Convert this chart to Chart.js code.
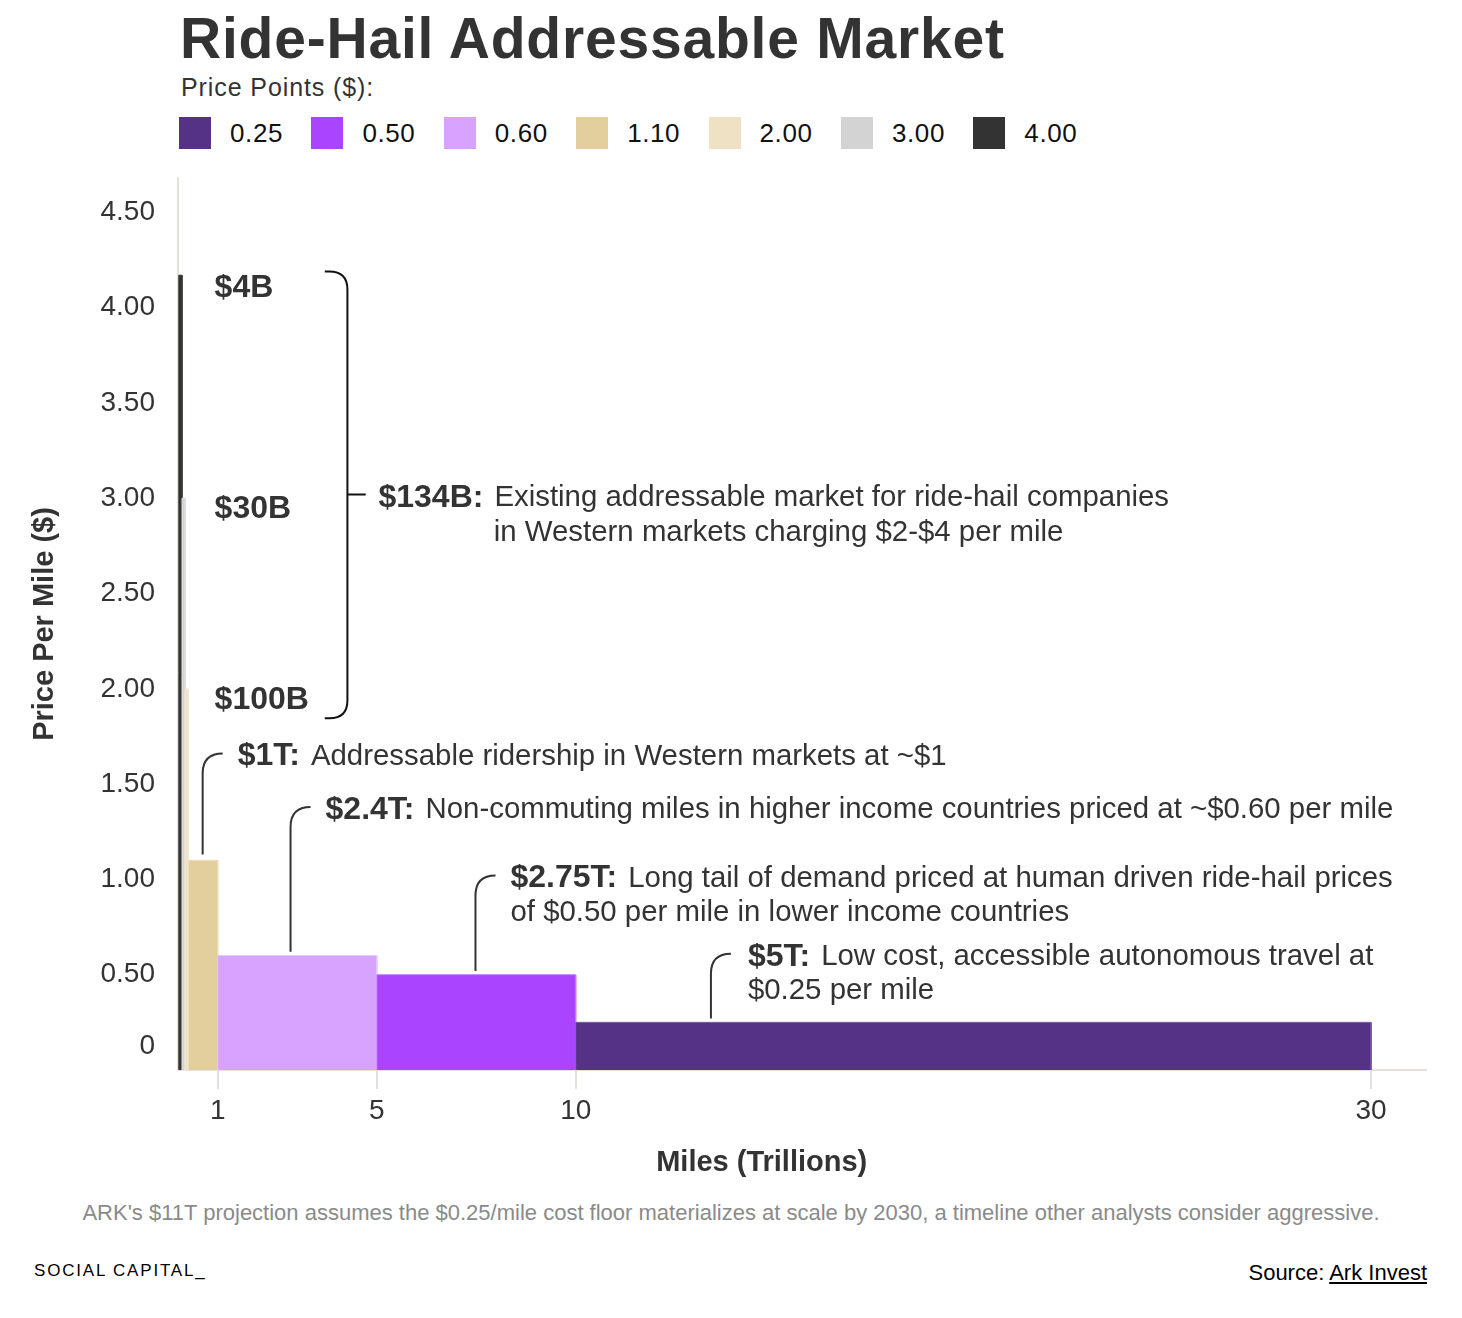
<!DOCTYPE html>
<html>
<head>
<meta charset="utf-8">
<script src="https://cdn.jsdelivr.net/npm/chart.js@4.4.1/dist/chart.umd.min.js"></script>
<style>
  body { margin: 0; background: #fff; font-family: "Liberation Sans", Arial, sans-serif; color: #333; }
  #page { position: relative; width: 1462px; height: 1318px; overflow: hidden; }
  h1 { position: absolute; left: 180px; top: 6px; margin: 0; font-size: 57px; font-weight: bold; color: #333; letter-spacing: 0.8px; line-height: 1.15; }
  #sub { position: absolute; left: 181px; top: 73px; font-size: 25px; letter-spacing: 0.9px; color: #333; }
  #legend { position: absolute; left: 179px; top: 117px; display: flex; }
  .item { width: 132.4px; height: 32px; display: flex; align-items: center; font-size: 26px; letter-spacing: 0.6px; color: #111; }
  .sw { width: 32px; height: 32px; margin-right: 19px; flex: none; }
  #chart { position: absolute; left: 0; top: 130px; }
  #note { position: absolute; left: 0; width: 1462px; top: 1200px; text-align: center; font-size: 22px; color: #8a8a8a; }
  #brand { position: absolute; left: 34px; top: 1261px; font-size: 17px; color: #000; letter-spacing: 1.8px; }
  #source { position: absolute; right: 35px; top: 1260px; font-size: 22px; color: #000; }
  #source span { text-decoration: underline; }
</style>
</head>
<body>
<div id="page">
  <h1>Ride-Hail Addressable Market</h1>
  <div id="sub">Price Points ($):</div>
  <div id="legend"></div>
  <canvas id="chart" width="1462" height="1070"></canvas>
  <div id="note">ARK's $11T projection assumes the $0.25/mile cost floor materializes at scale by 2030, a timeline other analysts consider aggressive.</div>
  <div id="brand">SOCIAL CAPITAL_</div>
  <div id="source">Source: <span>Ark Invest</span></div>
</div>
<script>
// price points (legend order) and the bars as they are drawn
const priceLabels = ['0.25', '0.50', '0.60', '1.10', '2.00', '3.00', '4.00'];
const barHeights = [0.25, 0.50, 0.60, 1.10, 2.00, 3.00, 4.17];
const milesStart = [10, 5, 1, 0.26, 0.18, 0.10, 0.02];
const milesEnd = [30, 10, 5, 1, 0.26, 0.18, 0.10];
const colors = ['#553285', '#aa44fe', '#d7a3fe', '#e3cf9d', '#efe2c4', '#d3d3d3', '#333333'];
const edges = ['#7a5aa3', '#c27dff', '#e5c4ff', '#ebdcb8', '#f4ead4', '#dedede', '#333333'];

const xTicks = [1, 5, 10, 30];
const yTicks = [0, 0.5, 1, 1.5, 2, 2.5, 3, 3.5, 4, 4.5];

// annotation anchors in data units (trillion miles, $ per mile)
const valueTags = [
  { text: '$4B', x: 0.92, y: 4.10 },
  { text: '$30B', x: 0.92, y: 2.94 },
  { text: '$100B', x: 0.92, y: 1.94 }
];
const brace = { x0: 3.69, x1: 4.26, tip: 4.72, top: 4.19, mid: 3.02, bottom: 1.845 };
const braceNote = { bold: '$134B:', lines: ['Existing addressable market for ride-hail companies', 'in Western markets charging $2-$4 per mile'], x: 5.04, x2: 7.94, y: 3.00, y2: 2.82 };

const callouts = [
  { bold: '$1T:', lines: ['Addressable ridership in Western markets at ~$1'], lx: 0.62, lyBottom: 1.13, lyTop: 1.66, tx: 1.50 },
  { bold: '$2.4T:', lines: ['Non-commuting miles in higher income countries priced at ~$0.60 per mile'], lx: 2.83, lyBottom: 0.62, lyTop: 1.38, tx: 3.71 },
  { bold: '$2.75T:', lines: ['Long tail of demand priced at human driven ride-hail prices', 'of $0.50 per mile in lower income countries'], lx: 7.48, lyBottom: 0.52, lyTop: 1.02, tx: 8.36 },
  { bold: '$5T:', lines: ['Low cost, accessible autonomous travel at', '$0.25 per mile'], lx: 13.4, lyBottom: 0.27, lyTop: 0.61, tx: 14.33 }
];

// html legend
const legend = document.getElementById('legend');
priceLabels.forEach(function (p, i) {
  const it = document.createElement('div');
  it.className = 'item';
  it.innerHTML = '<div class="sw" style="background:' + colors[i] + '"></div>' + p;
  legend.appendChild(it);
});

const datasets = priceLabels.map(function (p, i) {
  return {
    label: p,
    data: [
      { x: milesStart[i], y: 0 },
      { x: milesStart[i], y: barHeights[i] },
      { x: milesEnd[i], y: barHeights[i] },
      { x: milesEnd[i], y: 0 }
    ],
    backgroundColor: colors[i],
    borderColor: edges[i],
    borderWidth: 1,
    fill: 'origin',
    pointRadius: 0,
    tension: 0
  };
});

const FONT = '"Liberation Sans", Arial, sans-serif';
const INK = '#333333';
const BOLD = 'bold 32px ' + FONT;
const REG = '29.4px ' + FONT;

const notes = {
  id: 'notes',
  afterDatasetsDraw(chart) {
    const c = chart.ctx;
    const xs = chart.scales.x, ys = chart.scales.y;
    const px = v => xs.getPixelForValue(v);
    const py = v => ys.getPixelForValue(v);
    c.save();
    c.fillStyle = INK;
    c.textBaseline = 'middle';
    c.textAlign = 'left';

    c.font = BOLD;
    valueTags.forEach(t => c.fillText(t.text, px(t.x), py(t.y)));

    // brace around the western market bars
    const r = 18;
    const bx0 = px(brace.x0), bx1 = px(brace.x1), top = py(brace.top), bot = py(brace.bottom), mid = py(brace.mid);
    c.strokeStyle = '#111';
    c.lineWidth = 2;
    c.beginPath();
    c.moveTo(bx0, top);
    c.lineTo(bx1 - r, top);
    c.quadraticCurveTo(bx1, top, bx1, top + r);
    c.lineTo(bx1, bot - r);
    c.quadraticCurveTo(bx1, bot, bx1 - r, bot);
    c.lineTo(bx0, bot);
    c.moveTo(bx1, mid);
    c.lineTo(px(brace.tip), mid);
    c.stroke();

    function richLine(bold, text, x, y) {
      c.font = BOLD;
      c.fillText(bold, x, y);
      const w = c.measureText(bold).width + 11;
      c.font = REG;
      c.fillText(text, x + w, y);
    }
    richLine(braceNote.bold, braceNote.lines[0], px(braceNote.x), py(braceNote.y));
    c.font = REG;
    c.fillText(braceNote.lines[1], px(braceNote.x2), py(braceNote.y2));

    // callouts with curved leaders
    c.strokeStyle = '#333';
    c.lineWidth = 2;
    callouts.forEach(function (n) {
      const lx = px(n.lx), yb = py(n.lyBottom), yt = py(n.lyTop), rr = 20;
      c.beginPath();
      c.moveTo(lx, yb);
      c.lineTo(lx, yt + rr);
      c.quadraticCurveTo(lx, yt, lx + rr, yt);
      c.stroke();
      const tx = px(n.tx), ty = yt + 3;
      richLine(n.bold, n.lines[0], tx, ty);
      if (n.lines[1]) {
        c.font = REG;
        c.fillText(n.lines[1], tx, ty + 34);
      }
    });
    c.restore();
  }
};

new Chart(document.getElementById('chart'), {
  type: 'line',
  data: { datasets: datasets },
  plugins: [notes],
  options: {
    responsive: false,
    animation: false,
    devicePixelRatio: 1,
    layout: { padding: { left: 0, right: 36, top: 48, bottom: 10 } },
    plugins: { legend: { display: false }, tooltip: { enabled: false } },
    scales: {
      x: {
        type: 'linear',
        min: 0,
        max: 31.38,
        afterBuildTicks: s => { s.ticks = xTicks.map(v => ({ value: v })); },
        afterFit: s => { s.height = 120; },
        grid: { drawOnChartArea: false, drawTicks: true, tickLength: 19, color: '#e4e0dc', lineWidth: 2 },
        border: { display: true, color: '#e4e0dc', width: 2 },
        ticks: { color: INK, font: { family: FONT, size: 28 }, padding: 5, maxRotation: 0, autoSkip: false },
        title: {
          display: true,
          text: 'Miles (Trillions)' + '\u00a0'.repeat(10),
          color: INK,
          font: { family: FONT, size: 29, weight: 'bold' },
          padding: { top: 0, bottom: 10 }
        }
      },
      y: {
        min: 0,
        max: 4.68,
        afterBuildTicks: s => { s.ticks = yTicks.map(v => ({ value: v })); },
        afterFit: s => { s.width = 178; },
        grid: { display: false, drawTicks: false },
        border: { display: true, color: '#e4e0dc', width: 2 },
        ticks: {
          color: INK,
          padding: 23,
          autoSkip: false,
          font: ctx => ({ family: FONT, size: 28, lineHeight: ctx.tick && ctx.tick.value === 0 ? 1.7 : 1.2 }),
          callback: v => v === 0 ? ['0', ''] : v.toFixed(2)
        },
        title: {
          display: true,
          text: 'Price Per Mile ($)',
          color: INK,
          font: { family: FONT, size: 29, weight: 'bold' },
          padding: { top: 28, bottom: 0 }
        }
      }
    }
  }
});
</script>
</body>
</html>
